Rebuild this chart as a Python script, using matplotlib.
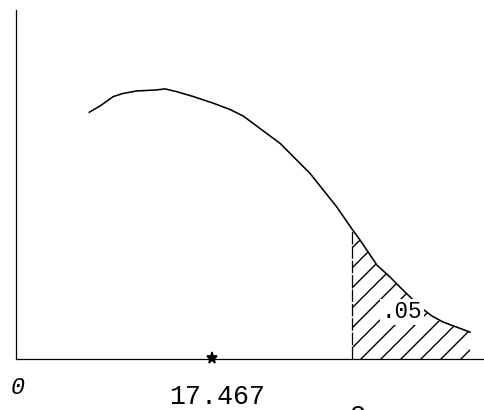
import numpy as np
import matplotlib.pyplot as plt

# curve (x in chi-square units, y relative height)
curve_x = [6.53, 7.49, 8.67, 9.56, 10.76, 12.54, 13.28, 14.32, 15.80, 17.58,
           19.07, 20.26, 21.60, 23.53, 25.02, 26.20, 27.39, 28.58, 29.95,
           30.66, 32.17, 33.33, 34.22, 35.12, 36.01, 37.08, 38.06, 39.22,
           40.46]
curve_y = [0.707, 0.725, 0.752, 0.761, 0.768, 0.771, 0.774, 0.766, 0.752,
           0.733, 0.715, 0.696, 0.664, 0.618, 0.570, 0.532, 0.484, 0.436,
           0.372, 0.341, 0.269, 0.235, 0.206, 0.178, 0.149, 0.123, 0.106,
           0.092, 0.077]
critical = 29.95
observed = 17.467
alpha_label = '.05'
tick_labels = ['0', '17.467', '2']

plt.rcParams['font.family'] = ['Liberation Mono', 'DejaVu Sans Mono']
plt.rcParams['hatch.linewidth'] = 0.85

# dpi 120 so that the hatch spacing comes out near the scanned one
fig = plt.figure(figsize=(484 / 120, 410 / 120), dpi=120)
ax = fig.add_axes([16 / 484, 51 / 410, 468 / 484, 349 / 410])
ax.set_xlim(0, 41.71)
ax.set_ylim(0, 1)

cx = np.array(curve_x)
cy = np.array(curve_y)
ax.plot(cx, cy, color='black', lw=0.95, solid_joinstyle='round')

# tail region
tail = cx >= critical
ax.fill_between(cx[tail], 0, cy[tail], facecolor='none', edgecolor='black',
                hatch='//', linewidth=0)
ax.plot([critical, critical], [0, cy[tail][0]], color='black', lw=0.75,
        linestyle=(0, (10, 1.5)))

ax.plot([observed], [0.003], marker='*', color='black', markersize=6.8,
        clip_on=False)

ax.text(34.4, 0.135, alpha_label, fontsize=13.5, ha='center', va='center',
        bbox=dict(facecolor='white', edgecolor='none', pad=1))

ax.text(0.12, -0.083, tick_labels[0], fontsize=14, style='italic',
        ha='center', va='center', clip_on=False)
ax.text(17.9, -0.11, tick_labels[1], fontsize=16, ha='center', va='center',
        clip_on=False)
ax.text(30.4, -0.165, tick_labels[2], fontsize=16, ha='center', va='center',
        clip_on=False)

for s in ['top', 'right']:
    ax.spines[s].set_visible(False)
for s in ['left', 'bottom']:
    ax.spines[s].set_linewidth(0.75)
    ax.spines[s].set_linestyle((0, (30, 1)))
ax.set_xticks([])
ax.set_yticks([])

fig.savefig('out.png', dpi=120)
